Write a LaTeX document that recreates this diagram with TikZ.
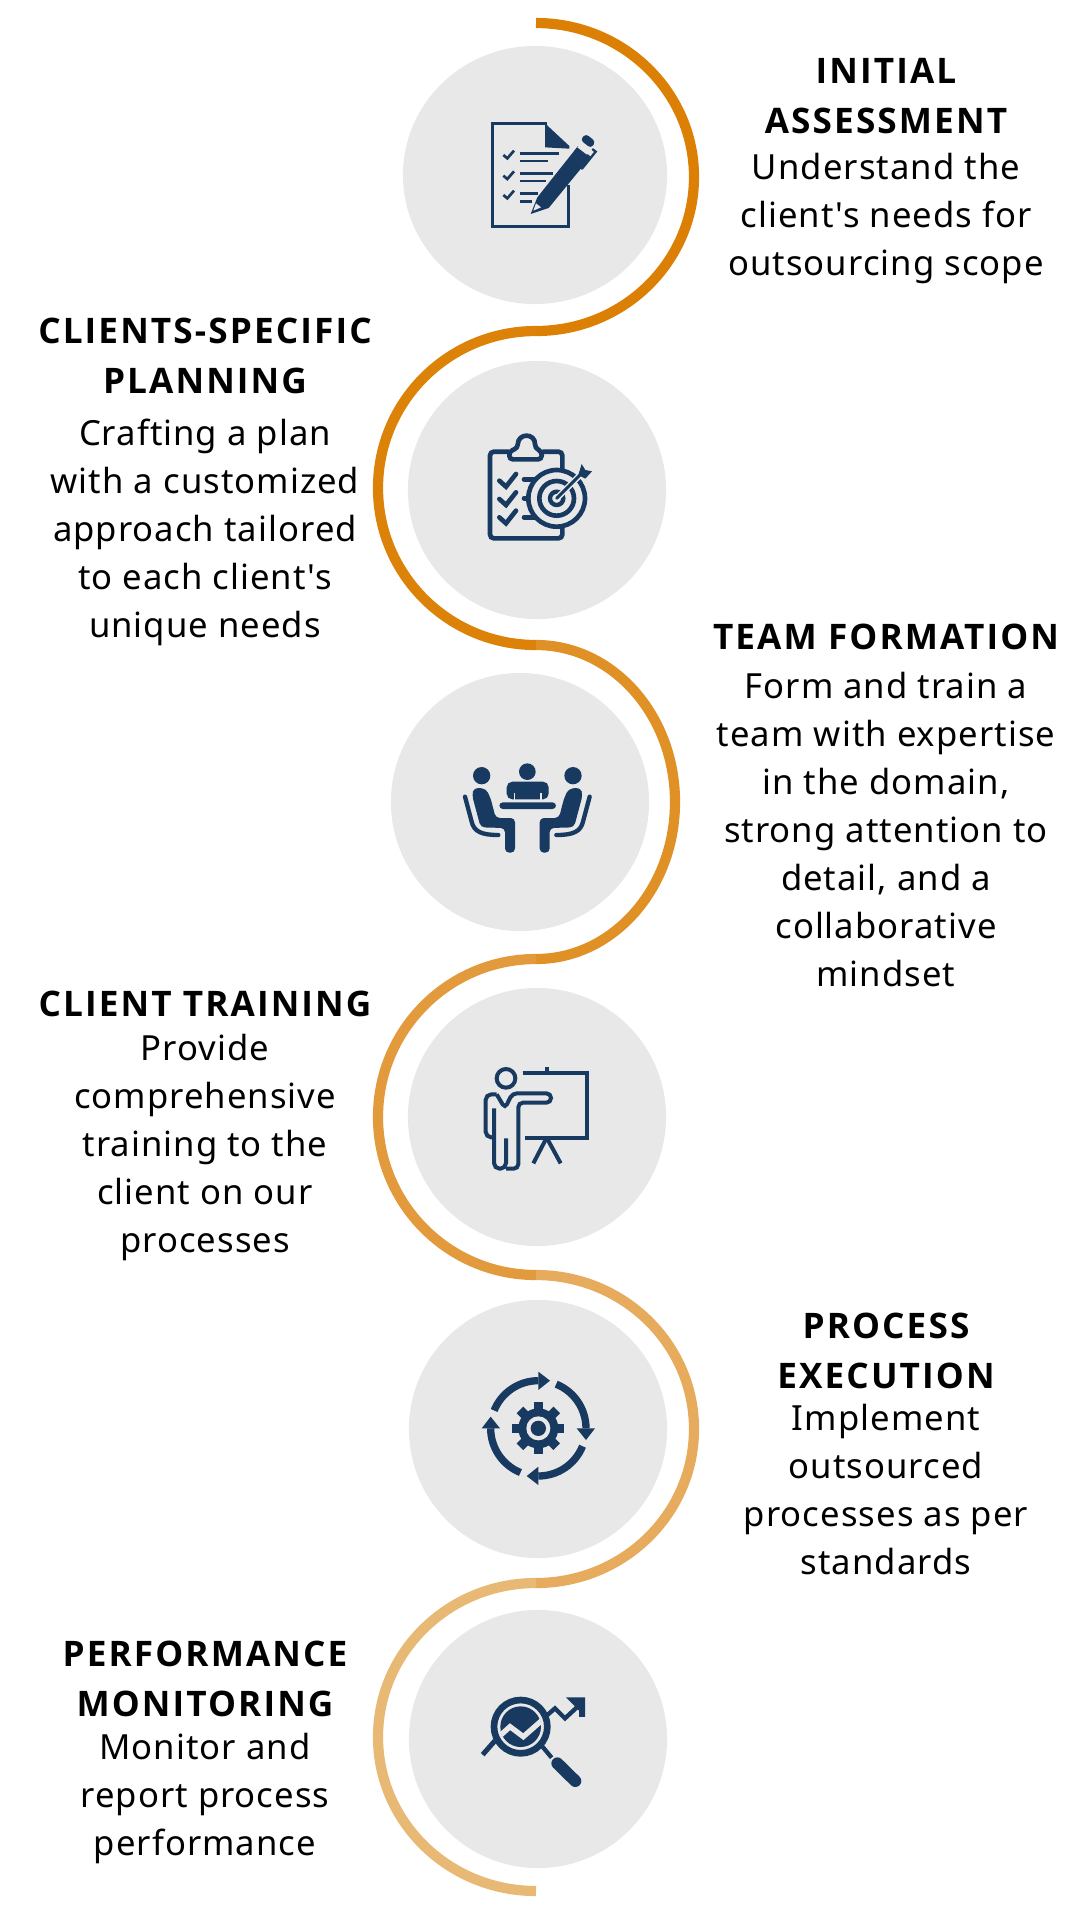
\documentclass[tikz,border=0pt]{standalone}
\usepackage{fontspec}
\usetikzlibrary{shapes.geometric}
\setmainfont{Noto Sans}[LetterSpace=3, Ligatures=TeXOff]
\newfontfamily\titlefont{Open Sans}[LetterSpace=6, Ligatures=TeXOff]
\definecolor{navy}{HTML}{183A60}
\definecolor{disc}{HTML}{E8E8E8}
\definecolor{band1}{HTML}{DC7F05}
\definecolor{band2}{HTML}{DC8208}
\definecolor{band3}{HTML}{E09126}
\definecolor{band4}{HTML}{E29A3C}
\definecolor{band5}{HTML}{E6AB5C}
\definecolor{band6}{HTML}{E8B974}
\tikzset{
  discnode/.style={circle, fill=disc, minimum size=#1, inner sep=0pt},
  bandline/.style={line width=2.9pt, draw=#1},
  ic/.style={draw=navy, line width=#1*0.0948pt},
  titletext/.style={anchor=base, align=center, inner sep=0pt, font=\fontsize{10}{14.2}\selectfont\titlefont\bfseries},
  bodytext/.style={anchor=base, align=center, inner sep=0pt, font=\fontsize{9.85}{13.65}\selectfont},
}
\newcommand{\sitter}{%
  \fill[navy] (95,107) circle[radius=26];
  \fill[navy, rounded corners=1.2pt] (66,165) -- (72,143) -- (108,146) -- (122,175) -- (137,234) -- (195,234) -- (195,338) -- (165,338) -- (165,264) -- (92,262) -- cycle;
  \draw[ic=13, line cap=round] (45,170) -- (65,245) .. controls (72,275) and (95,285) .. (145,285);
}
\begin{document}
\begin{tikzpicture}[x=0.01cm, y=-0.01cm]
  \useasboundingbox (0,0) rectangle (1080,1920);
  \draw[bandline=band1] (536,23) arc[start angle=-90, end angle=90, x radius=158, y radius=154];
  \draw[bandline=band2] (536,331) arc[start angle=-90, end angle=-270, x radius=158, y radius=157];
  \draw[bandline=band3] (536,645) arc[start angle=-90, end angle=90, x radius=139, y radius=157];
  \draw[bandline=band4] (536,959) arc[start angle=-90, end angle=-270, x radius=158, y radius=158];
  \draw[bandline=band5] (536,1275) arc[start angle=-90, end angle=90, x radius=158, y radius=154];
  \draw[bandline=band6] (536,1583) arc[start angle=-90, end angle=-270, x radius=158, y radius=154];
  \node[ellipse, fill=disc, minimum width=2.64cm, minimum height=2.58cm, inner sep=0pt] (disc1) at (535,175) {};
  \node[discnode=2.58cm] (disc2) at (537,490) {};
  \node[discnode=2.58cm] (disc3) at (520,802) {};
  \node[discnode=2.58cm] (disc4) at (537,1117) {};
  \node[discnode=2.58cm] (disc5) at (538,1429) {};
  \node[discnode=2.58cm] (disc6) at (538,1739) {};
  % document and pen
  \begin{scope}[shift={(460,90)}, scale=1/3]
    \draw[ic=9] (262,100) -- (98,100) -- (98,410) -- (325,410) -- (325,285);
    \fill[navy] (255,100) -- (328,168) -- (328,176) -- (255,172) -- cycle;
    \foreach \dy in {0,62,120} {
      \draw[ic=8] (130,195+\dy) -- (142,205+\dy) -- (162,182+\dy);
    }
    \draw[ic=7] (180,190) -- (297,190);
    \draw[ic=7] (180,213) -- (265,213);
    \draw[ic=7] (180,250) -- (280,250);
    \draw[ic=7] (180,272) -- (258,272);
    \draw[ic=7] (180,310) -- (235,310);
    \draw[ic=7] (180,334) -- (215,334);
    \fill[navy] (232,322) -- (354,168) -- (392,200) -- (266,354) -- (212,372) -- cycle;
    \fill[navy, rounded corners=1pt] (377,131) -- (407,155) -- (393,175) -- (361,150) -- cycle;
    \fill[disc] (358,166) -- (387,188) -- (381,194) -- (352,172) -- cycle;
    \draw[ic=7, line cap=round] (398,178) -- (407,185) -- (366,236);
    \fill[disc] (228,340) -- (220,362) -- (243,352) -- cycle;
  \end{scope}
  % clipboard and target
  \begin{scope}[shift={(460,410)}, scale=1/3]
    \draw[ic=14, rounded corners=1.1pt] (147,125) -- (90,125) -- (90,385) -- (307,385) -- (307,345);
    \draw[ic=14, rounded corners=1.1pt] (247,125) -- (307,125) -- (307,185);
    \draw[ic=14, rounded corners=1pt] (148,148) -- (245,148) -- (245,124) -- (225,114) .. controls (226,68) and (174,68) .. (173,114) -- (148,124) -- cycle;
    \foreach \dy in {0,55,110} {
      \draw[ic=14, line cap=round] (118,212+\dy) -- (138,230+\dy) -- (168,192+\dy);
    }
    \draw[ic=14, line cap=round] (192,208) -- (225,208);
    \draw[ic=14, line cap=round] (192,265) -- (205,265);
    \draw[ic=14, line cap=round] (192,322) -- (225,322);
    \draw[ic=14] (290,265) circle[radius=85];
    \draw[ic=14] (290,265) circle[radius=52];
    \draw[ic=13] (290,265) circle[radius=20];
    \draw[ic=18, disc] (290,265) -- (372,183);
    \draw[ic=9, line cap=round] (290,265) -- (362,193);
    \fill[navy] (365,162) -- (376,180) -- (396,184) -- (376,206) -- (355,195) -- cycle;
  \end{scope}
  % three people at a table
  \begin{scope}[shift={(450,740)}, scale=1/3]
    \fill[navy] (232,95) circle[radius=25];
    \fill[navy, rounded corners=1.6pt] (170,178) -- (170,125) -- (296,125) -- (296,178) -- cycle;
    \draw[ic=5, disc] (193,160) -- (193,180);
    \draw[ic=5, disc] (272,160) -- (272,180);
    \fill[navy, rounded corners=1pt] (148,187) rectangle (318,207);
    \sitter
    \begin{scope}[shift={(464,0)}, xscale=-1]
      \sitter
    \end{scope}
  \end{scope}
  % presenter and board
  \begin{scope}[shift={(470,1050)}, scale=1/3]
    \draw[ic=12] (108,85) circle[radius=28];
    \draw[ic=12] (158,70) -- (350,70) -- (350,263) -- (165,263);
    \draw[ic=12] (230,50) -- (230,70);
    \draw[ic=12] (230,263) -- (190,340);
    \draw[ic=12] (230,263) -- (272,340);
    \draw[ic=12, rounded corners=1.6pt] (80,133) -- (47,133) -- (47,262) -- (72,262);
    \draw[ic=12, rounded corners=1.6pt] (72,175) -- (72,356) -- (108,356) -- (108,265);
    \draw[ic=12, rounded corners=1.3pt] (108,356) -- (145,356) -- (145,158) -- (243,158) -- (243,130) -- (127,130) -- (105,175) -- (80,133);
  \end{scope}
  % gear and cycle
  \begin{scope}[shift={(470,1360)}, scale=1/3]
    \foreach \ang in {0,45,...,315} {
      \fill[navy, rotate around={\ang:(205,205)}] (191,127) rectangle (219,160);
    }
    \fill[navy] (205,205) circle[radius=60];
    \fill[disc] (205,205) circle[radius=36];
    \fill[navy] (205,205) circle[radius=23];
    \foreach \ang in {0,90,180,270} {
      \begin{scope}[rotate around={\ang:(205,205)}]
        \draw[ic=22] (205,205) ++(202:143) arc[start angle=202, end angle=270, radius=143];
        \fill[navy] (205,35) -- (240,62) -- (205,90) -- cycle;
      \end{scope}
    }
  \end{scope}
  % magnifier and trend
  \begin{scope}[shift={(470,1680)}, scale=1/3]
    \draw[ic=20] (152,140) circle[radius=80];
    \fill[navy] (152,140) circle[radius=61];
    \begin{scope}
      \clip (152,140) circle[radius=62];
      \draw[ic=16, disc] (70,185) -- (120,140) -- (160,170) -- (225,113);
    \end{scope}
    \draw[ic=13] (215,197) -- (245,233);
    \draw[ic=36, line cap=round] (262,250) -- (316,303);
    \draw[ic=15] (75,182) -- (38,224);
    \draw[ic=13] (232,105) -- (255,85) -- (285,115) -- (325,78);
    \fill[navy] (288,52) -- (345,52) -- (345,110) -- cycle;
    \fill[navy] (326,60) rectangle (345,110);
  \end{scope}
  % texts
  \node[titletext] (title1) at (886,133) {INITIAL\\ASSESSMENT};
  \node[bodytext] (body1) at (886,275) {Understand the\\client's needs for\\outsourcing scope};
  \node[titletext] (title2) at (205,393) {CLIENTS-SPECIFIC\\PLANNING};
  \node[bodytext] (body2) at (205,637) {Crafting a plan\\with a customized\\approach tailored\\to each client's\\unique needs};
  \node[titletext] (title3) at (886,649) {TEAM FORMATION};
  \node[bodytext] (body3) at (886,986) {Form and train a\\team with expertise\\in the domain,\\strong attention to\\detail, and a\\collaborative\\mindset};
  \node[titletext] (title4) at (205,1016) {CLIENT TRAINING};
  \node[bodytext] (body4) at (205,1252) {Provide\\comprehensive\\training to the\\client on our\\processes};
  \node[titletext] (title5) at (886,1388) {PROCESS\\EXECUTION};
  \node[bodytext] (body5) at (886,1574) {Implement\\outsourced\\processes as per\\standards};
  \node[titletext] (title6) at (205,1716) {PERFORMANCE\\MONITORING};
  \node[bodytext] (body6) at (205,1855) {Monitor and\\report process\\performance};
\end{tikzpicture}
\end{document}
